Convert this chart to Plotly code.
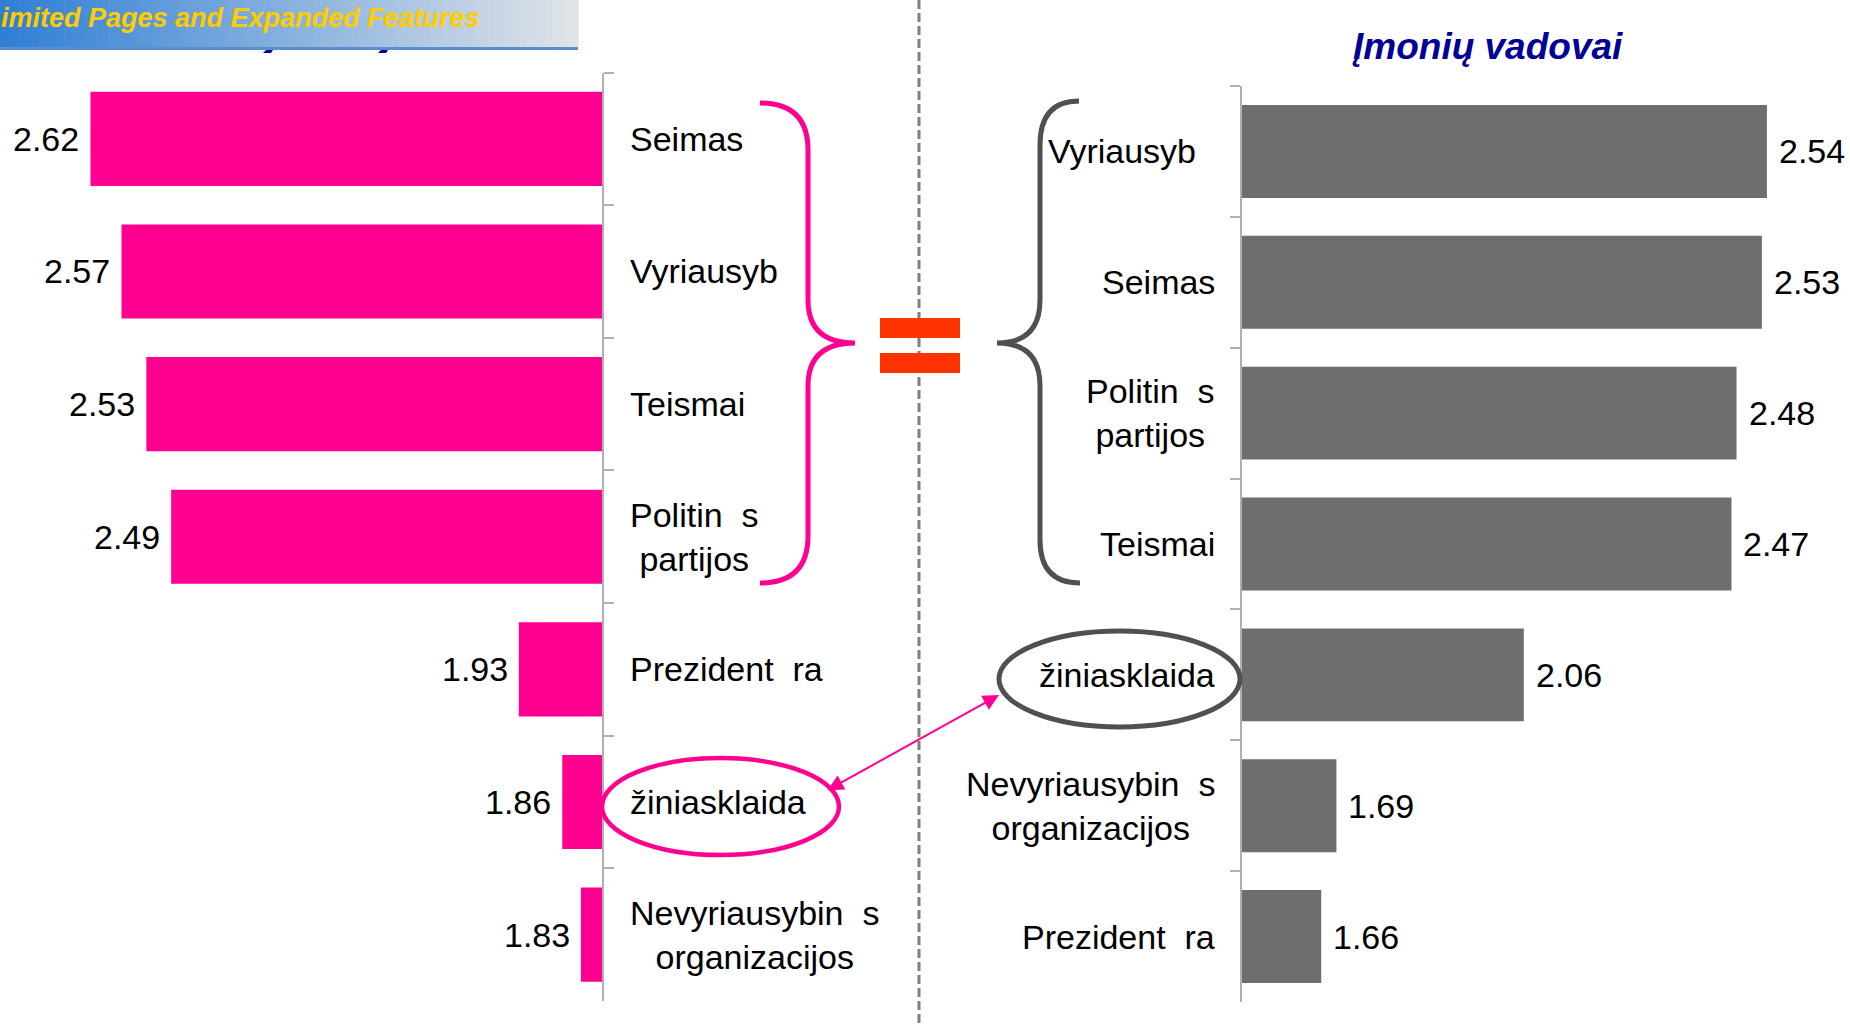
import plotly.graph_objects as go

# ---------------- data ----------------
left_cats = ["Seimas", "Vyriausyb\u00a0\u00a0", "Teismai", "Politin\u00a0\u00a0s<br>partijos",
             "Prezident\u00a0\u00a0ra", "žiniasklaida", "Nevyriausybin\u00a0\u00a0s<br>organizacijos"]
left_vals = [2.62, 2.57, 2.53, 2.49, 1.93, 1.86, 1.83]

right_title = "Įmonių vadovai"
right_cats = ["Vyriausyb\u00a0\u00a0", "Seimas", "Politin\u00a0\u00a0s<br>partijos", "Teismai",
              "žiniasklaida", "Nevyriausybin\u00a0\u00a0s<br>organizacijos", "Prezident\u00a0\u00a0ra"]
right_vals = [2.54, 2.53, 2.48, 2.47, 2.06, 1.69, 1.66]

banner_text = "imited Pages and Expanded Features"

# ---------------- style ----------------
W, H = 1850, 1024
FONT = "Liberation Sans, Arial, sans-serif"
PINK = "#FF0090"
GREY_BAR = "#6E6E6E"
DARK = "#505050"
AXIS = "#B0B0B0"

fig = go.Figure()

fig.add_trace(go.Bar(x=left_vals, y=left_cats, orientation="h", marker=dict(color=PINK, line=dict(width=0)),
                     xaxis="x", yaxis="y", hoverinfo="skip", showlegend=False))
fig.add_trace(go.Bar(x=right_vals, y=right_cats, orientation="h", marker=dict(color=GREY_BAR, line=dict(width=0)),
                     xaxis="x2", yaxis="y2", hoverinfo="skip", showlegend=False))
# invisible anchor trace for the pixel-coordinate overlay axes
fig.add_trace(go.Scatter(x=[0], y=[0], mode="markers", marker=dict(opacity=0),
                         xaxis="x3", yaxis="y3", hoverinfo="skip", showlegend=False))

yax_common = dict(type="category", autorange="reversed", showline=True, linecolor=AXIS, linewidth=1.5,
                  ticks="outside", ticklen=10, tickcolor=AXIS, tickwidth=1.5, tickson="boundaries",
                  showticklabels=False, showgrid=False, zeroline=False, fixedrange=True)

fig.update_layout(
    width=W, height=H, margin=dict(l=0, r=0, t=0, b=0),
    paper_bgcolor="white", plot_bgcolor="rgba(0,0,0,0)",
    bargap=0.29, showlegend=False,
    font=dict(family=FONT, size=34, color="black"),
    xaxis=dict(domain=[0, 602 / W], range=[2.7657, 1.796], visible=False, fixedrange=True, anchor="y"),
    yaxis=dict(domain=[1 - 1001 / H, 1 - 72.5 / H], anchor="x", side="right", **yax_common),
    xaxis2=dict(domain=[1242 / W, 1], range=[1.5036, 2.704], visible=False, fixedrange=True, anchor="y2"),
    yaxis2=dict(domain=[1 - 1002 / H, 1 - 86 / H], anchor="x2", side="left", **yax_common),
    xaxis3=dict(domain=[0, 1], range=[0, W], visible=False, fixedrange=True, anchor="y3"),
    yaxis3=dict(domain=[0, 1], range=[H, 0], visible=False, fixedrange=True, anchor="x3"),
)

shapes = []
# dashed divider
shapes.append(dict(type="line", xref="x3", yref="y3", x0=919, x1=919, y0=0, y1=H,
                   line=dict(color="#7F7F7F", width=3, dash="9px,4px"), layer="above"))
# equals sign
for y0, y1 in [(318, 338), (353, 373)]:
    shapes.append(dict(type="rect", xref="x3", yref="y3", x0=880, x1=960, y0=y0, y1=y1,
                       fillcolor="#FF3300", line=dict(width=0), layer="above"))
# braces
shapes.append(dict(type="path", xref="x3", yref="y3", layer="above",
                   path="M 760 103 Q 808 103 808 150 L 808 300 Q 808 343 855 343 "
                        "Q 808 343 808 386 L 808 536 Q 808 583 760 583",
                   line=dict(color=PINK, width=5)))
shapes.append(dict(type="path", xref="x3", yref="y3", layer="above",
                   path="M 1079 101 Q 1040 101 1040 145 L 1040 300 Q 1040 343 997 343 "
                        "Q 1040 343 1040 386 L 1040 540 Q 1040 583 1080 583",
                   line=dict(color=DARK, width=5)))
# ellipses
shapes.append(dict(type="circle", xref="x3", yref="y3", x0=602, x1=839, y0=758, y1=855,
                   line=dict(color=PINK, width=4.5), layer="above"))
shapes.append(dict(type="circle", xref="x3", yref="y3", x0=999, x1=1240, y0=631, y1=727,
                   line=dict(color=DARK, width=5), layer="above"))
# banner gradient
N = 90
c0 = (47, 127, 213)
c1 = (225, 227, 231)
BW = 578
for i in range(N):
    t = i / (N - 1)
    col = "rgb(%d,%d,%d)" % tuple(round(a + (b - a) * t) for a, b in zip(c0, c1))
    shapes.append(dict(type="rect", xref="x3", yref="y3", x0=BW * i / N, x1=BW * (i + 1) / N + 0.6,
                       y0=0, y1=47, fillcolor=col, line=dict(width=0), layer="above"))
shapes.append(dict(type="rect", xref="x3", yref="y3", x0=0, x1=BW, y0=47, y1=50,
                   fillcolor="#5A90D2", line=dict(width=0), layer="above"))
# small dark-blue fragments of the hidden left title peeking below the banner
for fx in (263, 378):
    shapes.append(dict(type="path", xref="x3", yref="y3", layer="above",
                       path="M %d 50 L %d 50 L %d 53 L %d 53 Z" % (fx + 3, fx + 10, fx + 8, fx),
                       fillcolor="#000096", line=dict(width=0)))
fig.update_layout(shapes=shapes)

ann = []
# category labels
for c in left_cats:
    ann.append(dict(x=628, xref="x3", y=c, yref="y", text=c, showarrow=False, xanchor="left",
                    align="center", font=dict(size=34, color="black")))
for c in right_cats:
    ann.append(dict(x=1217, xref="x3", y=c, yref="y2", text=c, showarrow=False, xanchor="right",
                    align="center", font=dict(size=34, color="black")))
# value labels
for c, v in zip(left_cats, left_vals):
    ann.append(dict(x=v, xref="x", y=c, yref="y", text="%.2f" % v, showarrow=False, xanchor="right",
                    xshift=-9, font=dict(size=34, color="black")))
for c, v in zip(right_cats, right_vals):
    ann.append(dict(x=v, xref="x2", y=c, yref="y2", text="%.2f" % v, showarrow=False, xanchor="left",
                    xshift=10, font=dict(size=34, color="black")))
# title
ann.append(dict(x=1487, y=46, xref="x3", yref="y3", text="<b><i>" + right_title + "</i></b>",
                showarrow=False, xanchor="center", yanchor="middle",
                font=dict(size=37, color="#000096")))
# banner text
ann.append(dict(x=0, y=18, xref="x3", yref="y3", text="<b><i>" + banner_text + "</i></b>",
                showarrow=False, xanchor="left", yanchor="middle", borderpad=0,
                font=dict(size=27, color="#FFCC00")))
# double arrow
ann.append(dict(x=999, y=695, xref="x3", yref="y3", ax=826, ay=791, axref="x3", ayref="y3",
                text="", showarrow=True, arrowside="end+start", arrowhead=2, startarrowhead=2,
                arrowsize=1.6, startarrowsize=1.6, arrowwidth=2, arrowcolor=PINK,
                standoff=0, startstandoff=0))
fig.update_layout(annotations=ann)

fig.write_html("out.html", config={"displayModeBar": False},
               post_script="document.body.style.margin='0';document.body.style.overflow='hidden';")
